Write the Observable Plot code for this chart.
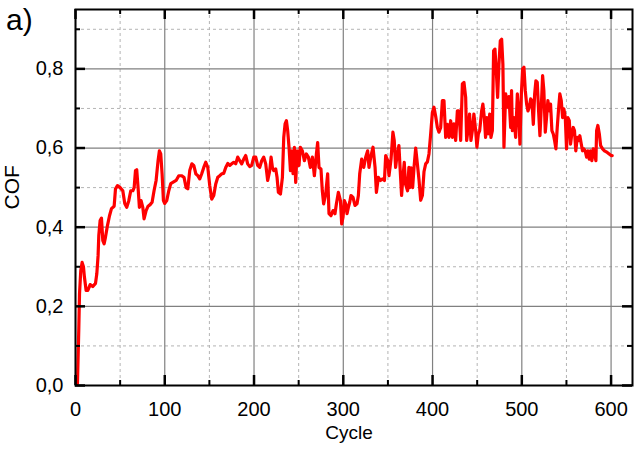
<!DOCTYPE html>
<html><head><meta charset="utf-8">
<script src="https://cdn.jsdelivr.net/npm/d3@7"></script>
<script src="https://cdn.jsdelivr.net/npm/@observablehq/plot@0.6"></script>
<style>
body{margin:0;background:#fff;font-family:"Liberation Sans",Arial,sans-serif;}
#wrap{position:relative;width:640px;height:449px;}
#tag{position:absolute;left:6px;top:5px;font-size:30px;line-height:30px;color:#000;}
</style></head><body><div id="wrap"><div id="tag">a)</div></div>
<script>
const seg1 = [[2.2,0.005],[3.7,0.144],[4.5,0.232],[5.9,0.29],[7.4,0.311],[8.9,0.30],[10,0.274],[11.9,0.24],[13.8,0.24],[16.4,0.255],[19.4,0.25],[22.4,0.258],[23.9,0.283],[25.3,0.328],[26.1,0.379],[27.6,0.417],[29.1,0.423],[30.6,0.366],[32.1,0.358],[33.6,0.375],[35.8,0.404],[38.1,0.429],[40.3,0.447],[43.3,0.453],[44.8,0.497],[47,0.505],[50,0.50],[53,0.492],[55.2,0.46],[57.4,0.45],[59.7,0.467],[61.9,0.492],[64.2,0.492],[65.7,0.5],[67.2,0.543],[68.6,0.545],[70.1,0.5],[71.6,0.45],[73.5,0.467],[75.4,0.45],[76.8,0.421],[79.1,0.442],[81.3,0.453],[83.6,0.457],[85.8,0.463],[88,0.492],[90.3,0.518],[92.5,0.568],[94,0.593],[95.5,0.585],[97,0.535],[98.5,0.467],[100,0.46],[102.2,0.467],[104.5,0.492],[106.7,0.51],[109,0.513],[112.7,0.518],[115.7,0.53],[118.7,0.53],[121.6,0.526],[123.9,0.5]];
const seg2 = [[125.8,0.497],[128,0.543],[130.3,0.56],[132.5,0.556],[134.8,0.535],[137,0.53],[139.2,0.522],[141.4,0.535],[143.7,0.551],[145.9,0.564],[148.2,0.551],[150.4,0.505],[152.6,0.471],[154.9,0.48],[157.1,0.509],[159.4,0.526],[161.6,0.53],[163.8,0.535],[166.1,0.536],[168.3,0.551],[170.6,0.561],[172.8,0.556],[175,0.56],[177.3,0.564],[179.5,0.56],[181.7,0.577],[184,0.568],[186.2,0.56],[188.5,0.572],[190.7,0.581],[192.9,0.56],[195.2,0.553],[197.4,0.556],[199.7,0.577],[201.9,0.577],[204.1,0.556],[206.4,0.551],[208.6,0.568],[210.9,0.577],[213.1,0.56],[215.3,0.518],[217.6,0.543],[219.1,0.577],[220.6,0.551],[222.1,0.543],[224.3,0.547],[225.8,0.526],[227.3,0.488],[229.6,0.484],[231.8,0.526],[233.3,0.627],[234.8,0.661],[236.3,0.669],[237.7,0.644],[239.2,0.602],[240.8,0.543],[242.2,0.593],[243.7,0.535],[245.2,0.602],[246.7,0.513],[248.2,0.593],[250.4,0.556]];
const seg3 = [[251.9,0.602],[254.1,0.593],[256.4,0.568],[258.6,0.585],[260.9,0.577],[263.1,0.551],[265.4,0.577],[267.6,0.53],[269.9,0.585],[271.3,0.614],[272.8,0.551],[275,0.547],[276.5,0.492],[278,0.459],[280.3,0.484],[282.5,0.535],[284,0.434],[286.2,0.429],[288.5,0.442],[290.7,0.434],[292.3,0.459],[294.5,0.488],[296.8,0.467],[298.2,0.408],[299.7,0.425],[301.2,0.467],[302.7,0.459],[304.2,0.434],[305.7,0.45],[307.2,0.463],[308.6,0.48],[310.9,0.475],[313.1,0.455],[315.4,0.459],[316.9,0.48],[318.4,0.535],[320.6,0.572],[322.9,0.551],[325.1,0.577],[327.3,0.593],[328.8,0.551],[331.1,0.581],[333.3,0.602],[335.6,0.551],[337.1,0.488],[339.3,0.526],[341.6,0.518],[343.8,0.522],[346.1,0.518],[347.5,0.581],[349.8,0.568],[351.2,0.53],[353.5,0.572],[355.6,0.64],[357.1,0.619],[358.6,0.551],[360,0.577],[362.3,0.606],[363.8,0.543],[365.3,0.48],[366.8,0.526],[368.3,0.564],[369.7,0.509],[372,0.492],[373.5,0.551]];
const seg4 = [[374.4,0.5],[376,0.55],[377.7,0.5],[379.2,0.55],[381.1,0.6],[383,0.56],[384.8,0.52],[386.7,0.468],[388.6,0.48],[390.4,0.54],[392.3,0.56],[394.2,0.565],[396,0.585],[397.9,0.636],[399.8,0.69],[401.6,0.703],[403.5,0.68],[405.4,0.652]];
const seg5 = [[407.2,0.64],[409.1,0.652],[411,0.72],[412.8,0.72],[414.7,0.627],[416.6,0.66],[418.4,0.627],[420.3,0.669],[422.2,0.627],[424,0.661],[425.9,0.619],[427.8,0.694],[429.6,0.694],[431.5,0.619],[433.4,0.762],[435.2,0.766],[437.1,0.728],[438.2,0.619],[440.1,0.652],[441.5,0.686],[443,0.619],[444.6,0.644],[446.3,0.686],[448.3,0.644],[449.7,0.602],[451.3,0.636],[452.8,0.644],[455,0.694],[456.4,0.711],[458,0.677],[459.4,0.627],[460.9,0.677],[462.5,0.636],[464,0.686],[465.4,0.627],[467,0.644],[468.4,0.846],[469.9,0.85],[471.4,0.795],[472.9,0.728],[474.4,0.812],[475.9,0.871],[477.4,0.875],[478.8,0.812],[480,0.602],[481.9,0.737],[483.8,0.703],[485.6,0.73],[487.5,0.652],[488.5,0.745]];
const seg6 = [[489.4,0.644],[491.2,0.677],[493.1,0.627],[495,0.737],[496.8,0.677],[497.9,0.61],[499.5,0.737],[500.9,0.8],[502.4,0.804],[503.9,0.745],[505.4,0.711],[506.9,0.694],[508.4,0.703],[509.9,0.724],[511.3,0.72],[512.9,0.66],[514.4,0.737],[515.8,0.77],[517.3,0.766],[518.8,0.694],[520.3,0.631],[521.8,0.703],[523.3,0.783],[524.7,0.745],[526.3,0.64],[527.7,0.677],[529.2,0.72],[530.8,0.694],[532.2,0.711],[533.7,0.644],[535.2,0.636],[536.7,0.619],[538.2,0.598],[539.7,0.652],[541.2,0.699],[542.6,0.737],[544.2,0.72],[545.7,0.677],[547.1,0.699],[548.7,0.677],[550.1,0.598],[551.6,0.677],[553.2,0.669],[554.6,0.61],[556,0.636],[557.6,0.652],[559,0.644],[560.5,0.593],[562.1,0.627],[563.6,0.619],[565,0.631],[566.6,0.61],[568,0.593],[569.5,0.598],[571,0.593],[572.6,0.577],[574,0.593],[575.6,0.572],[577,0.593],[578.5,0.568],[580,0.598],[581.5,0.585],[583,0.568],[583.8,0.644],[585.2,0.657],[586.8,0.636],[588.3,0.606],[590.5,0.598],[592.6,0.593],[595.7,0.589],[597.9,0.585],[600.1,0.581],[601.3,0.581]];

const xMajor = [0, 100, 200, 300, 400, 500, 600];
const xMinor = [50, 150, 250, 350, 450, 550];
const yMajor = [0, 0.2, 0.4, 0.6, 0.8];
const yMinor = [0.1, 0.3, 0.5, 0.7, 0.9];
const xTitle = "Cycle";
const yTitle = "COF";

const data = [...seg1, ...seg2, ...seg3, ...seg4, ...seg5, ...seg6].map(([c, v]) => ({cycle: c, cof: v}));

const W = 640, H = 449, mL = 75, mR = 8, mT = 9, mB = 64;
const pw = W - mL - mR, ph = H - mT - mB;
const majLen = 10, minLen = 5;

const chart = Plot.plot({
  width: W, height: H,
  marginLeft: mL, marginRight: mR, marginTop: mT, marginBottom: mB,
  style: {fontFamily: "'Liberation Sans', Arial, sans-serif", fontSize: "20px", color: "black", background: "white"},
  x: {domain: [0, 624]},
  y: {domain: [0, 0.95]},
  marks: [
    Plot.gridX(xMinor, {stroke: "#b4b4b4", strokeOpacity: 1, strokeWidth: 1, strokeDasharray: "3,3"}),
    Plot.gridY(yMinor, {stroke: "#b4b4b4", strokeOpacity: 1, strokeWidth: 1, strokeDasharray: "3,3"}),
    Plot.gridX(xMajor, {stroke: "#808080", strokeOpacity: 1, strokeWidth: 1.2}),
    Plot.gridY(yMajor, {stroke: "#808080", strokeOpacity: 1, strokeWidth: 1.2}),
    Plot.line(data, {x: "cycle", y: "cof", stroke: "#ff0000", strokeWidth: 3.2}),
    Plot.frame({stroke: "black", strokeWidth: 2}),
    Plot.tickX(xMajor, {x: d => d, stroke: "black", strokeWidth: 2.5, insetTop: ph - majLen}),
    Plot.tickX(xMajor, {x: d => d, stroke: "black", strokeWidth: 2.5, insetBottom: ph - majLen}),
    Plot.tickX(xMinor, {x: d => d, stroke: "black", strokeWidth: 2, insetTop: ph - minLen}),
    Plot.tickX(xMinor, {x: d => d, stroke: "black", strokeWidth: 2, insetBottom: ph - minLen}),
    Plot.tickY(yMajor, {y: d => d, stroke: "black", strokeWidth: 2.5, insetRight: pw - majLen}),
    Plot.tickY(yMajor, {y: d => d, stroke: "black", strokeWidth: 2.5, insetLeft: pw - majLen}),
    Plot.tickY(yMinor, {y: d => d, stroke: "black", strokeWidth: 2, insetRight: pw - minLen}),
    Plot.tickY(yMinor, {y: d => d, stroke: "black", strokeWidth: 2, insetLeft: pw - minLen}),
    Plot.axisX(xMajor, {tickSize: 0, tickPadding: 16, fontSize: 20, label: null}),
    Plot.axisY(yMajor, {tickSize: 0, tickPadding: 12, fontSize: 20, label: null, tickFormat: d => d.toFixed(1).replace(".", ",")}),
    Plot.text([xTitle], {frameAnchor: "bottom", text: d => d, dx: -5, dy: 53, fontSize: 19, fill: "black"}),
    Plot.text([yTitle], {frameAnchor: "left", text: d => d, rotate: -90, dx: -63, dy: 12, fontSize: 21, fill: "black"})
  ]
});
document.getElementById("wrap").prepend(chart);
</script>
</body></html>
